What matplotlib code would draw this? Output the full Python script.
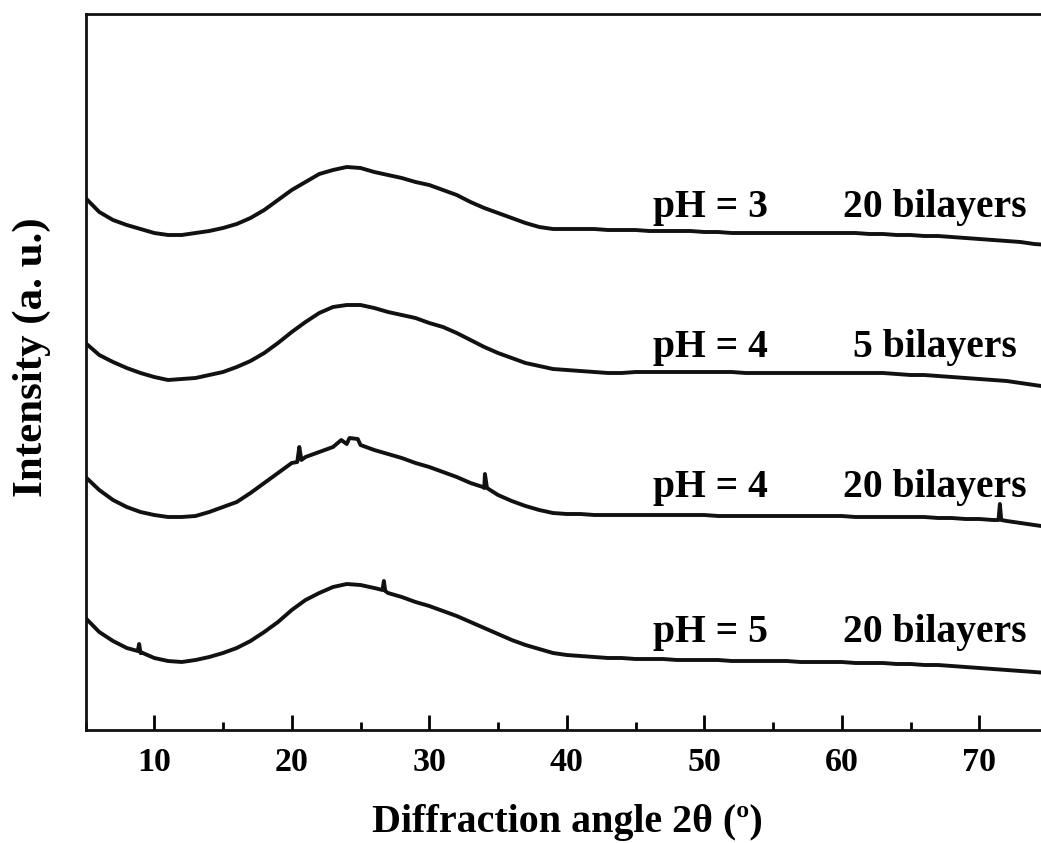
import numpy as np
import matplotlib
matplotlib.use("Agg")
import matplotlib.pyplot as plt
from matplotlib.ticker import MultipleLocator

plt.rcParams['font.family'] = ['Liberation Serif', 'DejaVu Serif']
plt.rcParams['font.weight'] = 'bold'

# ---- data (intensity in arbitrary units, curves already stacked) ----
two_theta = list(range(5, 76))

ph3_20 = [532, 518, 510, 505, 501, 497, 495, 495, 497, 499, 502, 506, 512, 520, 530,
          540, 548, 556, 560, 563, 562, 558, 555, 552, 548, 545, 540, 535, 528, 522,
          517, 512, 507, 503, 501, 501, 501, 501, 500, 500, 500, 499, 499, 499, 499,
          498, 498, 497, 497, 497, 497, 497, 497, 497, 497, 497, 497, 496, 496, 495,
          495, 494, 494, 493, 492, 491, 490, 489, 488, 486, 485]

ph4_5 = [387, 375, 368, 362, 357, 353, 350, 351, 352, 355, 358, 363, 369, 377, 387,
         398, 408, 417, 423, 425, 425, 422, 418, 415, 412, 407, 403, 397, 390, 383,
         377, 372, 367, 364, 361, 360, 359, 358, 357, 357, 358, 358, 358, 358, 358,
         358, 358, 358, 357, 357, 357, 357, 357, 357, 357, 357, 357, 357, 357, 356,
         355, 355, 354, 353, 352, 351, 350, 349, 347, 345, 343]

ph4_20 = [253, 240, 230, 223, 218, 215, 213, 213, 214, 218, 223, 228, 237, 247, 257,
          267, 273, 278, 283, 286, 285, 280, 276, 272, 267, 263, 258, 253, 247, 242,
          235, 229, 224, 220, 217, 216, 216, 215, 215, 215, 215, 215, 215, 215, 215,
          215, 214, 214, 214, 214, 214, 214, 214, 214, 214, 214, 213, 213, 213, 213,
          213, 213, 212, 212, 211, 211, 210, 209, 207, 205, 203]
ph4_20_peak_x = [20.4, 20.55, 20.7, 23.6, 24.2, 24.8, 25.2, 33.9, 34.05, 34.2, 71.4, 71.5, 71.6]
ph4_20_peak_y = [268, 283, 270, 290, 292, 291, 284, 243, 256, 242, 210, 226, 210]

ph5_20 = [112, 98, 89, 82, 77, 72, 69, 68, 70, 73, 77, 82, 89, 98, 108,
          120, 130, 137, 143, 146, 145, 142, 137, 133, 128, 124, 119, 114, 108, 102,
          96, 90, 85, 81, 77, 75, 74, 73, 72, 72, 71, 71, 71, 70, 70,
          70, 70, 69, 69, 69, 69, 69, 68, 68, 68, 68, 67, 67, 67, 66,
          66, 65, 65, 64, 63, 62, 61, 60, 59, 58, 57]
ph5_20_peak_x = [8.8, 8.9, 9.0, 26.6, 26.7, 26.8]
ph5_20_peak_y = [79, 86, 78, 140, 149, 139]

ph_labels = ["pH = 3", "pH = 4", "pH = 4", "pH = 5"]
layer_labels = ["20 bilayers", "5 bilayers", "20 bilayers", "20 bilayers"]
label_baselines = [513, 373, 233, 88]


def merge(xs, ys, px=None, py=None):
    x = np.array(xs, dtype=float)
    y = np.array(ys, dtype=float)
    if px is not None:
        x = np.concatenate([x, px])
        y = np.concatenate([y, py])
    o = np.argsort(x, kind='stable')
    return x[o], y[o]


W, H = 1041, 843
fig = plt.figure(figsize=(W / 100, H / 100), dpi=100)
left_px, right_px, bottom_px, top_px = 85.5, 1048, 730, 14
ax = fig.add_axes([left_px / W, (H - bottom_px) / H,
                   (right_px - left_px) / W, (bottom_px - top_px) / H])

curves = [merge(two_theta, ph3_20),
          merge(two_theta, ph4_5),
          merge(two_theta, ph4_20, ph4_20_peak_x, ph4_20_peak_y),
          merge(two_theta, ph5_20, ph5_20_peak_x, ph5_20_peak_y)]
for x, y in curves:
    ax.plot(x, y, color='#111111', lw=2.8, solid_joinstyle='round')

ax.set_xlim(5, 75)
ax.set_ylim(0, 716)
ax.set_yticks([])
ax.xaxis.set_major_locator(MultipleLocator(10))
ax.xaxis.set_minor_locator(MultipleLocator(5))
ax.tick_params(axis='x', which='major', direction='in', length=10.5, width=2,
               pad=12.5, labelsize=24.5)
ax.tick_params(axis='x', which='minor', direction='in', length=5.5, width=2)
for lab in ax.get_xticklabels():
    lab.set_fontweight('bold')
for s in ax.spines.values():
    s.set_linewidth(2)
    s.set_color('#111111')

for ph, lay, yb in zip(ph_labels, layer_labels, label_baselines):
    ax.text(46.3, yb, ph, fontsize=28.5, fontweight='bold', ha='left', va='baseline')
    ax.text(66.8, yb, lay, fontsize=28.5, fontweight='bold', ha='center', va='baseline')

fig.text(567 / W, (H - 832) / H, "Diffraction angle 2θ (º)", fontsize=28.8,
         fontweight='bold', ha='center', va='baseline')
fig.text(32 / W, (H - 357) / H, "Intensity (a. u.)", fontsize=31,
         fontweight='bold', ha='center', va='center', rotation=90)

fig.savefig("out.png", dpi=100)
